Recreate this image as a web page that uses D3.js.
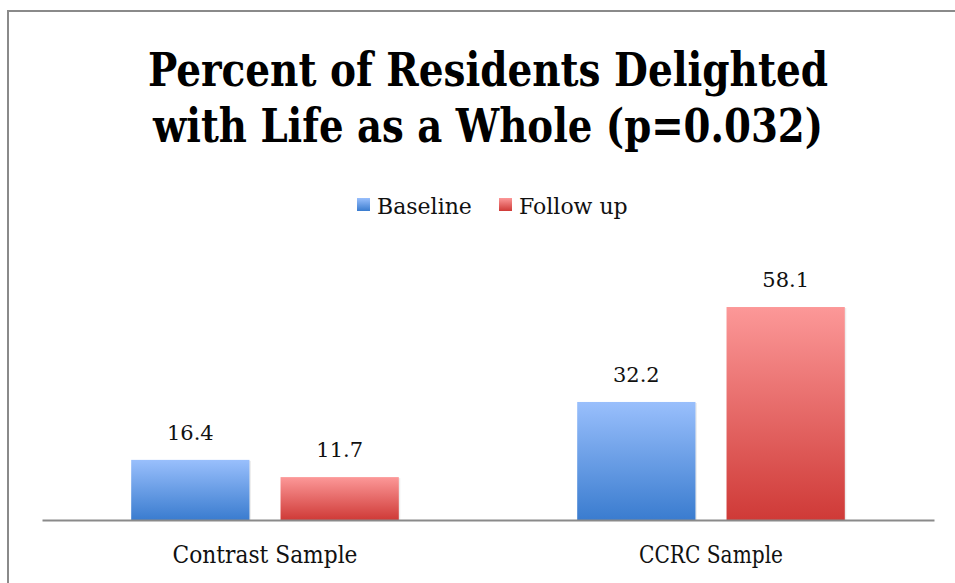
<!DOCTYPE html>
<html>
<head>
<meta charset="utf-8">
<script src="https://cdn.jsdelivr.net/npm/d3@7"></script>
<style>
  html, body { margin: 0; padding: 0; background: #fff; }
  svg { display: block; }
</style>
</head>
<body>
<svg id="chart" width="955" height="583"></svg>
<script>
const categories = ['Contrast Sample', 'CCRC Sample'];
const seriesNames = ['Baseline', 'Follow up'];
const baseline = [16.4, 32.2];
const followUp = [11.7, 58.1];
const titleLines = ['Percent of Residents Delighted', 'with Life as a Whole (p=0.032)'];

const rows = categories.map((c, i) => ({ category: c, values: [baseline[i], followUp[i]] }));

const svg = d3.select('#chart');
const serif = "'DejaVu Serif', serif";
const condensed = "'DejaVu Serif Condensed', 'DejaVu Serif', serif";

// frame
svg.append('rect')
  .attr('x', 8).attr('y', 11)
  .attr('width', 960).attr('height', 600)
  .attr('fill', 'none')
  .attr('stroke', '#8a8a8a')
  .attr('stroke-width', 2);

const defs = svg.append('defs');
const grads = [
  { id: 'g-blue', top: '#99bffc', bottom: '#3a7ccf' },
  { id: 'g-red', top: '#fc9898', bottom: '#cf3a37' }
];
grads.forEach(g => {
  const lg = defs.append('linearGradient')
    .attr('id', g.id).attr('x1', 0).attr('y1', 0).attr('x2', 0).attr('y2', 1);
  lg.append('stop').attr('offset', '0%').attr('stop-color', g.top);
  lg.append('stop').attr('offset', '100%').attr('stop-color', g.bottom);
});
const fillFor = d3.scaleOrdinal().domain(seriesNames).range(['url(#g-blue)', 'url(#g-red)']);

// title
svg.append('g')
  .selectAll('text')
  .data(titleLines)
  .join('text')
  .attr('x', 488)
  .attr('y', (d, i) => 86 + i * 56)
  .attr('text-anchor', 'middle')
  .attr('font-family', condensed)
  .attr('font-weight', 'bold')
  .attr('font-size', 46)
  .attr('textLength', (d, i) => i === 0 ? 680 : 670)
  .attr('lengthAdjust', 'spacingAndGlyphs')
  .attr('fill', '#000')
  .text(d => d);

// legend
const legendX = { 'Baseline': 357, 'Follow up': 499 };
const $legend = svg.append('g')
  .selectAll('g')
  .data(seriesNames)
  .join('g')
  .attr('transform', d => `translate(${legendX[d]},198)`);
$legend.append('rect')
  .attr('width', 13).attr('height', 13)
  .attr('fill', d => fillFor(d));
$legend.append('text')
  .attr('x', 20).attr('y', 16)
  .attr('font-family', serif)
  .attr('font-size', 22)
  .attr('fill', '#111')
  .text(d => d);

// scales
const x0 = d3.scaleBand().domain(categories).range([42, 934]).padding(0);
const inset = x0.bandwidth() * 0.2;
const x1 = d3.scaleBand()
  .domain(seriesNames)
  .range([inset, x0.bandwidth() - inset])
  .paddingInner(0.208);
const y = d3.scaleLinear().domain([0, 70]).range([520, 263.4]);

// bars
const $groups = svg.append('g')
  .selectAll('g')
  .data(rows)
  .join('g')
  .attr('transform', d => `translate(${x0(d.category)},0)`);

const cells = d => d.values.map((v, i) => ({ series: seriesNames[i], value: v }));

$groups.selectAll('rect.shadow')
  .data(cells)
  .join('rect')
  .attr('class', 'shadow')
  .attr('x', d => x1(d.series) + 1.5)
  .attr('y', d => y(d.value) + 1)
  .attr('width', x1.bandwidth())
  .attr('height', d => y(0) - y(d.value) - 1)
  .attr('fill', '#000')
  .attr('opacity', 0.07);

$groups.selectAll('rect.bar')
  .data(cells)
  .join('rect')
  .attr('class', 'bar')
  .attr('x', d => x1(d.series))
  .attr('y', d => y(d.value))
  .attr('width', x1.bandwidth())
  .attr('height', d => y(0) - y(d.value))
  .attr('fill', d => fillFor(d.series));

$groups.selectAll('text.value')
  .data(cells)
  .join('text')
  .attr('class', 'value')
  .attr('x', d => x1(d.series) + x1.bandwidth() / 2)
  .attr('y', d => y(d.value) - 20)
  .attr('text-anchor', 'middle')
  .attr('font-family', serif)
  .attr('font-size', 21)
  .attr('fill', '#111')
  .text(d => d.value.toFixed(1));

// x axis
const xAxis = svg.append('g')
  .attr('transform', `translate(0,${y(0)})`)
  .call(d3.axisBottom(x0).tickSize(0).tickPadding(0));
xAxis.select('.domain')
  .attr('stroke', '#8a8a8a')
  .attr('stroke-width', 2);
xAxis.selectAll('.tick text')
  .attr('y', 43)
  .attr('dy', 0)
  .attr('font-family', condensed)
  .attr('font-size', 24)
  .attr('fill', '#111')
  .attr('textLength', d => d === 'Contrast Sample' ? 185 : 144)
  .attr('lengthAdjust', 'spacingAndGlyphs');
</script>
</body>
</html>
